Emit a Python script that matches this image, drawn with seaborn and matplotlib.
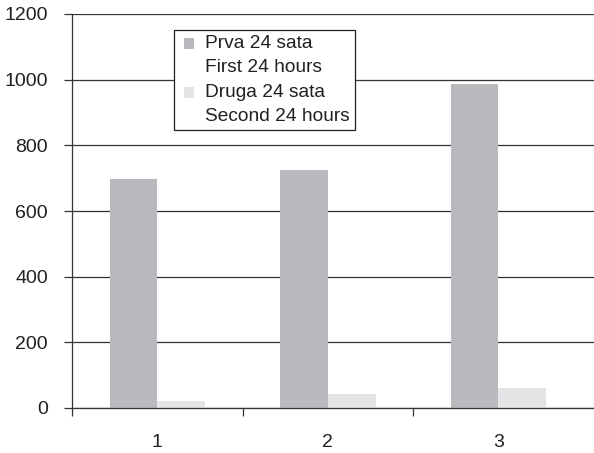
import matplotlib
matplotlib.use("Agg")
import matplotlib.pyplot as plt
from matplotlib.patches import Rectangle
from matplotlib.legend_handler import HandlerPatch
from matplotlib.ticker import FixedLocator, NullFormatter
import seaborn as sns
import pandas as pd

# Values per group
groups = ["1", "2", "3"]
first_24h = [697, 725, 987]
second_24h = [20, 42, 60]
series_labels = ["Prva 24 sata\nFirst 24 hours", "Druga 24 sata\nSecond 24 hours"]
y_ticks = [0, 200, 400, 600, 800, 1000, 1200]

dark_grey = "#b9babd"
light_grey = "#e3e4e6"
ink = "#231f20"
fs = 14
leg_fs = 13.8

sns.set_theme(style="white")
plt.rcParams["font.family"] = ["Liberation Sans", "DejaVu Sans"]
plt.rcParams["font.size"] = fs

df = pd.DataFrame({
    "group": groups * 2,
    "value": first_24h + second_24h,
    "series": [series_labels[0]] * len(groups) + [series_labels[1]] * len(groups),
})

fig = plt.figure(figsize=(5.94, 4.53), dpi=100)
ax = fig.add_axes([72 / 594, 1 - 408 / 453, 1 - 72 / 594, (408 - 14) / 453])

sns.barplot(data=df, x="group", y="value", hue="series",
            palette=[dark_grey, light_grey], width=0.56, gap=0,
            saturation=1, linewidth=0, ax=ax)

ax.set_ylim(0, 1200)
ax.set_xlim(-0.5, 2.56)
ax.set_xlabel("")
ax.set_ylabel("")

# Y axis: ticks extended as horizontal grid lines
ax.set_yticks(y_ticks)
ax.set_yticklabels([str(t) for t in y_ticks], color=ink, fontsize=fs)
ax.yaxis.grid(True, color="#333333", linewidth=0.9)
ax.set_axisbelow(True)
ax.tick_params(axis="y", direction="out", length=5.8, width=0.9,
               color="#333333", pad=11.5, left=True)

# X axis: labels centred on groups, tick marks between groups
ax.tick_params(axis="x", which="major", length=0, pad=19, labelsize=fs,
               labelcolor=ink)
ax.xaxis.set_minor_locator(FixedLocator([-0.5, 0.5, 1.5]))
ax.xaxis.set_minor_formatter(NullFormatter())
ax.tick_params(axis="x", which="minor", direction="out", length=5.8,
               width=0.9, color="#333333", bottom=True)

for side in ("top", "right"):
    ax.spines[side].set_visible(False)
for side in ("left", "bottom"):
    ax.spines[side].set_color("#333333")
    ax.spines[side].set_linewidth(0.9)


def top_square(legend, orig_handle, xdescent, ydescent, width, height, fontsize):
    # small square swatch next to the first line of a two-line label
    size = 7.4
    return Rectangle((-xdescent + 3.6, -ydescent + 0.62 * fontsize), size, size)


old = ax.get_legend()
if old is not None:
    old.remove()
handles = [ax.containers[0].patches[0], ax.containers[1].patches[0]]
leg = ax.legend(handles, series_labels,
                loc="upper left",
                bbox_to_anchor=(174 / 594, 1 - 30 / 453),
                bbox_transform=fig.transFigure,
                frameon=True, fancybox=False, framealpha=1,
                edgecolor=ink, fontsize=leg_fs,
                handler_map={Rectangle: HandlerPatch(patch_func=top_square)},
                handlelength=0.8, handleheight=0.5, handletextpad=0.58,
                borderpad=0.25, labelspacing=0.4, borderaxespad=0)
leg.get_frame().set_linewidth(0.9)
for t in leg.get_texts():
    t.set_color(ink)
    t.set_linespacing(1.56)

fig.savefig("out.png", dpi=100)
